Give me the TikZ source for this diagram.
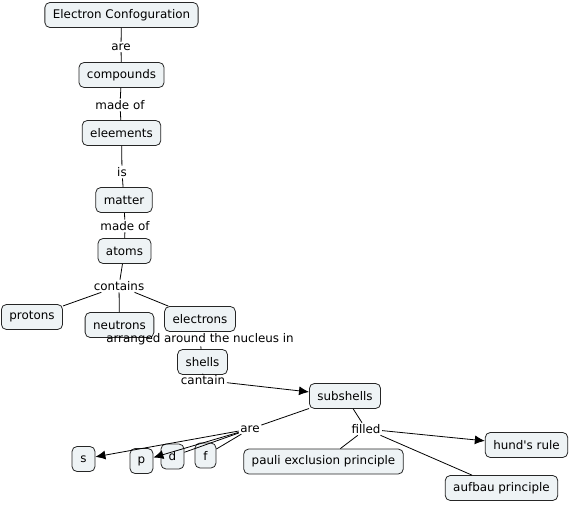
\documentclass[tikz,border=0pt]{standalone}
\usepackage{fontspec}
\setmainfont{DejaVu Sans}
\usetikzlibrary{arrows.meta}
\definecolor{boxfill}{HTML}{EEF3F5}
\def\lw{0.8pt}
\def\fsz{\fontsize{11.9}{13}\selectfont}
\tikzset{
  concept/.style={draw=black!85, fill=boxfill, rounded corners=5pt, line width=\lw,
    minimum height=25pt, inner xsep=8pt, font=\fsz},
  link/.style={inner sep=1.5pt, font=\fsz},
  conn/.style={line width=\lw},
  arr/.style={conn, -{Latex[length=10pt,width=9pt]}}
}

\begin{document}
\begin{tikzpicture}[x=1pt,y=-1pt]
\useasboundingbox (0,0) rectangle (570,505);

% concepts
\node[concept] (ec) at (121.5,15) {Electron Confoguration};
\node[concept] (comp) at (121.5,75) {compounds};
\node[concept] (elem) at (121.5,133) {eleements};
\node[concept] (matter) at (124,200) {matter};
\node[concept] (atoms) at (124.5,251) {atoms};
\node[concept] (protons) at (32,317) {protons};
\node[concept] (neutrons) at (119.5,325) {neutrons};
\node[concept] (electrons) at (200,319) {electrons};
\node[concept] (shells) at (202.5,362) {shells};
\node[concept] (subsh) at (345,396) {subshells};
\node[concept, minimum width=23pt, inner xsep=3pt] (s) at (83.5,459) {s};
\node[concept, minimum width=23pt, inner xsep=3pt] (p) at (141.5,461) {p};
\node[concept, minimum width=23pt, inner xsep=3pt] (d) at (172.5,456.5) {d};
\node[concept, minimum width=21pt, inner xsep=3pt] (f) at (205.5,455.5) {f};
\node[concept] (pauli) at (323.5,461.5) {pauli exclusion principle};
\node[concept] (hund) at (526.5,445) {hund\textquotesingle s rule};
\node[concept] (aufbau) at (501.5,488) {aufbau principle};

% linking phrases
\node[link] (l1) at (121,47) {are};
\node[link] (l2) at (120,105) {made of};
\node[link] (l3) at (122,172) {is};
\node[link] (l4) at (125,226) {made of};
\node[link] (l5) at (119,286) {contains};
\node[link] (l6) at (200,339) {arranged around the nucleus in};
\node[link] (l7) at (203,380) {cantain};
\node[link] (l8) at (250,429) {are};
\node[link] (l9) at (366,429) {filled};

% connectors
\draw[conn] (ec) -- (l1) -- (comp);
\draw[conn] (comp) -- (l2) -- (elem);
\draw[conn] (elem) -- (l3) -- (matter);
\draw[conn] (matter) -- (l4) -- (atoms);
\draw[conn] (atoms) -- (l5);
\foreach \n in {protons, neutrons, electrons}
  \draw[conn] (l5) -- (\n);
\draw[conn] (electrons) -- (l6) -- (shells);
\draw[conn] (shells) -- (l7);
\draw[arr] (l7) -- (subsh);
\draw[conn] (subsh) -- (l8);
\draw[arr] (l8) -- (s);
\draw[arr] (l8) -- (p);
\draw[conn] (l8) -- (d);
\draw[conn] (l8) -- (f);
\draw[conn] (subsh) -- (l9);
\draw[conn] (l9) -- (pauli);
\draw[arr] (l9) -- (hund);
\draw[conn] (l9) -- (aufbau);
\end{tikzpicture}
\end{document}
